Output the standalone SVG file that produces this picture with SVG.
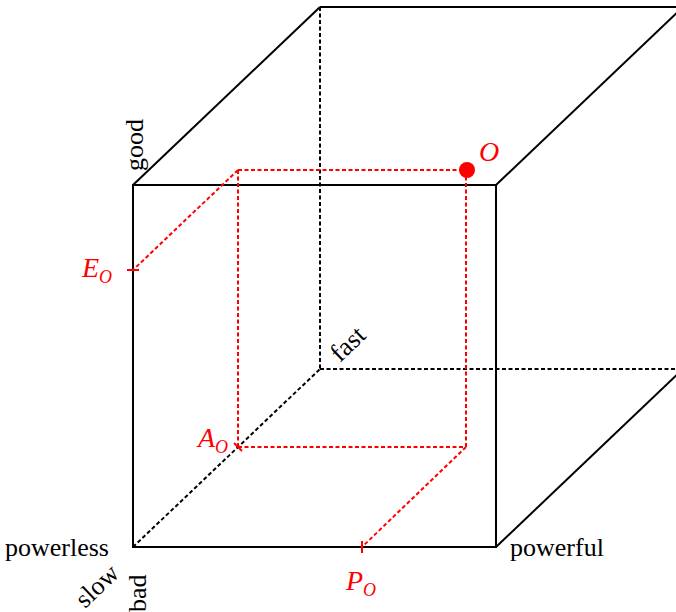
<svg xmlns="http://www.w3.org/2000/svg" width="676" height="612" viewBox="0 0 676 612">
<style>
.solid{fill:none;stroke:#000;stroke-width:2}
.dash{fill:none;stroke:#000;stroke-width:2;stroke-dasharray:4 2.5}
.red{fill:none;stroke:#f00;stroke-width:2;stroke-dasharray:4 2.5}
.tick{fill:none;stroke:#f00;stroke-width:2}
.lbl{font-family:"Liberation Serif",serif;font-size:26px;fill:#000}
.rl{font-family:"Liberation Serif",serif;font-style:italic;font-size:28px;fill:#f00}
.sub{font-size:18px}
</style>
<rect width="676" height="612" fill="#fff"/>
<g id="connectors">
<g id="cube">
<line class="dash" x1="320" y1="7" x2="320" y2="369"/>
<line class="dash" x1="320" y1="369" x2="683" y2="369"/>
<line class="dash" x1="133" y1="547" x2="320" y2="369"/>
<rect class="solid" x="133" y="185" width="363" height="362"/>
<line class="solid" x1="133" y1="185" x2="320" y2="7"/>
<line class="solid" x1="320" y1="7" x2="683" y2="7"/>
<line class="solid" x1="496" y1="185" x2="683" y2="7"/>
<line class="solid" x1="496" y1="547" x2="683" y2="369"/>
</g>
<g id="projections">
<line class="red" x1="238" y1="170" x2="466" y2="170"/>
<line class="red" x1="238" y1="170" x2="238" y2="447"/>
<line class="red" x1="466" y1="170" x2="466" y2="447"/>
<line class="red" x1="238" y1="447" x2="466" y2="447"/>
<line class="red" x1="238" y1="170" x2="133" y2="270"/>
<line class="red" x1="466" y1="447" x2="362" y2="547"/>
<line class="tick" x1="127" y1="270" x2="139" y2="270"/>
<line class="tick" x1="362" y1="541" x2="362" y2="553"/>
<line class="tick" x1="234" y1="443" x2="242" y2="451"/>
</g>
</g>
<g id="point-O">
<circle cx="467" cy="170" r="8" fill="#f00"/>
<text class="rl" x="479" y="161">O</text>
</g>
<g id="label-EO"><text class="rl" x="82" y="277">E<tspan class="sub" dy="6">O</tspan></text></g>
<g id="label-AO"><text class="rl" x="198" y="447">A<tspan class="sub" dy="6">O</tspan></text></g>
<g id="label-PO"><text class="rl" x="346" y="590">P<tspan class="sub" dy="6">O</tspan></text></g>
<g id="axis-labels">
<text class="lbl" transform="translate(143,171) rotate(-90)">good</text>
<text class="lbl" transform="translate(146,612) rotate(-90)">bad</text>
<text class="lbl" transform="translate(340,363) rotate(-43.6)">fast</text>
<text class="lbl" transform="translate(85,609) rotate(-43.6)">slow</text>
<text class="lbl" x="5" y="556">powerless</text>
<text class="lbl" x="510" y="556">powerful</text>
</g>
</svg>
